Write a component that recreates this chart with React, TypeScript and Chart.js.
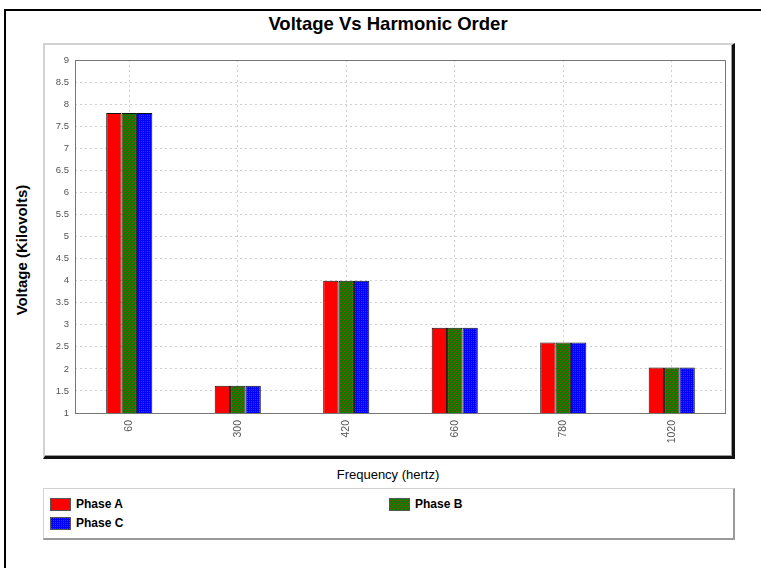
import React, { useEffect, useRef } from 'react';
import { Chart, registerables } from 'chart.js';

Chart.register(...registerables);

const categories = ['60', '300', '420', '660', '780', '1020'];
const phaseA = [7.8, 1.62, 4.0, 2.93, 2.6, 2.03];
const phaseB = [7.8, 1.62, 4.0, 2.93, 2.6, 2.03];
const phaseC = [7.8, 1.62, 4.0, 2.93, 2.6, 2.03];
const seriesNames = ['Phase A', 'Phase B', 'Phase C'];
const yMin = 1;
const yMax = 9;
const yStep = 0.5;
const chartTitle = 'Voltage Vs Harmonic Order';
const xTitle = 'Frequency (hertz)';
const yTitle = 'Voltage (Kilovolts)';

const FONT = '"Liberation Sans", Arial, sans-serif';

type Kind = 'solid' | 'hatch' | 'cross';
const kinds: Kind[] = ['solid', 'hatch', 'cross'];

function makeFill(kind: Kind): string | CanvasPattern {
  if (kind === 'solid') return '#ff0000';
  const tile = document.createElement('canvas');
  tile.width = 4;
  tile.height = 4;
  const c = tile.getContext('2d')!;
  if (kind === 'hatch') {
    c.fillStyle = '#0a7a00';
    c.fillRect(0, 0, 4, 4);
    c.fillStyle = 'rgb(140,70,0)';
    for (let x = 0; x < 4; x++)
      for (let y = 0; y < 4; y++)
        if ((x + y) % 4 === 3) c.fillRect(x, y, 1, 1);
  } else {
    c.fillStyle = '#0000ff';
    c.fillRect(0, 0, 4, 4);
    c.fillStyle = 'rgb(220,0,70)';
    for (let x = 0; x < 4; x++)
      for (let y = 0; y < 4; y++)
        if (x % 2 === 1 && y % 2 === 1) c.fillRect(x, y, 1, 1);
  }
  return c.createPattern(tile, 'repeat')!;
}

const framePlugin = {
  id: 'plotFrame',
  beforeDatasetsDraw(chart: any) {
    const { ctx, chartArea } = chart;
    const { left, top, right, bottom } = chartArea;
    ctx.save();
    ctx.strokeStyle = '#777';
    ctx.lineWidth = 1;
    ctx.setLineDash([]);
    ctx.strokeRect(Math.round(left) + 0.5, Math.round(top) + 0.5, Math.round(right - left) - 1, Math.round(bottom - top));
    ctx.restore();
  },
};

function Swatch({ kind, x, y }: { kind: Kind; x: number; y: number }) {
  const ref = useRef<HTMLCanvasElement>(null);
  useEffect(() => {
    const cv = ref.current;
    if (!cv) return;
    const c = cv.getContext('2d')!;
    c.clearRect(0, 0, 21, 13);
    c.fillStyle = makeFill(kind) as any;
    c.fillRect(0, 0, 21, 13);
    c.strokeStyle = '#555';
    c.lineWidth = 1;
    c.strokeRect(0.5, 0.5, 20, 12);
  }, [kind]);
  return (
    <canvas
      ref={ref}
      width={21}
      height={13}
      style={{ position: 'absolute', left: x, top: y, width: 21, height: 13 }}
    />
  );
}

export default function App() {
  const canvasRef = useRef<HTMLCanvasElement>(null);

  useEffect(() => {
    const canvas = canvasRef.current;
    if (!canvas) return;
    const data = [phaseA, phaseB, phaseC];
    const chart = new Chart(canvas, {
      type: 'bar',
      data: {
        labels: categories,
        datasets: data.map((d, i) => ({
          label: seriesNames[i],
          data: d,
          backgroundColor: makeFill(kinds[i]) as any,
          borderColor: '#111',
          borderWidth: 1,
          categoryPercentage: 0.425,
          barPercentage: 1,
        })),
      },
      options: {
        responsive: false,
        maintainAspectRatio: false,
        animation: false,
        layout: { padding: { left: 0, top: 60, right: 35, bottom: 105 } },
        plugins: {
          legend: { display: false },
          title: { display: false },
          tooltip: { enabled: false },
        },
        scales: {
          x: {
            grid: { offset: false, color: '#cfcfcf', drawTicks: false },
            border: { display: false, dash: [2, 3] },
            ticks: {
              minRotation: 90,
              maxRotation: 90,
              autoSkip: false,
              padding: 7,
              color: '#555',
              font: { size: 10.5, family: FONT },
            },
            afterFit(s: any) {
              s.height = 50;
            },
          },
          y: {
            min: yMin,
            max: yMax,
            ticks: {
              stepSize: yStep,
              padding: 6,
              color: '#555',
              font: { size: 9.5, family: FONT },
              callback: (v: any) => String(Number(v)),
            },
            grid: { color: '#cfcfcf', drawTicks: false },
            border: { display: false, dash: [2, 3] },
            afterFit(s: any) {
              s.width = 75;
            },
          },
        },
      },
      plugins: [framePlugin],
    });
    return () => chart.destroy();
  }, []);

  return (
    <div
      style={{
        position: 'absolute',
        left: 0,
        top: 0,
        width: 761,
        height: 568,
        overflow: 'hidden',
        background: '#fff',
        fontFamily: FONT,
        color: '#000',
      }}
    >
      {/* outer frame */}
      <div
        style={{
          position: 'absolute',
          left: 4,
          top: 9,
          width: 900,
          height: 700,
          borderLeft: '2px solid #000',
          borderTop: '2px solid #000',
        }}
      />
      {/* title */}
      <div
        style={{
          position: 'absolute',
          left: 388,
          top: 13,
          transform: 'translateX(-50%)',
          whiteSpace: 'nowrap',
          fontWeight: 'bold',
          fontSize: 18.5,
          lineHeight: '22px',
        }}
      >
        {chartTitle}
      </div>
      {/* plot panel */}
      <div
        style={{
          position: 'absolute',
          left: 43,
          top: 43,
          width: 687,
          height: 411,
          borderTop: '2px solid #d2d2d2',
          borderLeft: '2px solid #d2d2d2',
          borderRight: '3px solid #111',
          borderBottom: '3px solid #111',
          boxShadow: 'inset -1px -1px 0 #999',
          boxSizing: 'content-box',
        }}
      />
      {/* y title */}
      <div
        style={{
          position: 'absolute',
          left: 22,
          top: 250,
          transform: 'translate(-50%, -50%) rotate(-90deg)',
          whiteSpace: 'nowrap',
          fontWeight: 'bold',
          fontSize: 15,
          lineHeight: '18px',
        }}
      >
        {yTitle}
      </div>
      {/* x title */}
      <div
        style={{
          position: 'absolute',
          left: 388,
          top: 475,
          transform: 'translate(-50%, -50%)',
          whiteSpace: 'nowrap',
          fontSize: 13,
          lineHeight: '16px',
        }}
      >
        {xTitle}
      </div>
      {/* legend box */}
      <div
        style={{
          position: 'absolute',
          left: 43,
          top: 488,
          width: 689,
          height: 49,
          borderTop: '1px solid #d2d2d2',
          borderLeft: '1px solid #d2d2d2',
          borderRight: '2px solid #9a9a9a',
          borderBottom: '2px solid #9a9a9a',
        }}
      />
      <Swatch kind="solid" x={50} y={498} />
      <div style={{ position: 'absolute', left: 76, top: 496, fontSize: 12, fontWeight: 'bold', lineHeight: '16px', whiteSpace: 'nowrap' }}>
        {seriesNames[0]}
      </div>
      <Swatch kind="hatch" x={389} y={498} />
      <div style={{ position: 'absolute', left: 415, top: 496, fontSize: 12, fontWeight: 'bold', lineHeight: '16px', whiteSpace: 'nowrap' }}>
        {seriesNames[1]}
      </div>
      <Swatch kind="cross" x={50} y={517} />
      <div style={{ position: 'absolute', left: 76, top: 515, fontSize: 12, fontWeight: 'bold', lineHeight: '16px', whiteSpace: 'nowrap' }}>
        {seriesNames[2]}
      </div>
      <canvas
        ref={canvasRef}
        width={761}
        height={568}
        style={{ position: 'absolute', left: 0, top: 0, width: 761, height: 568, display: 'block' }}
      />
    </div>
  );
}
